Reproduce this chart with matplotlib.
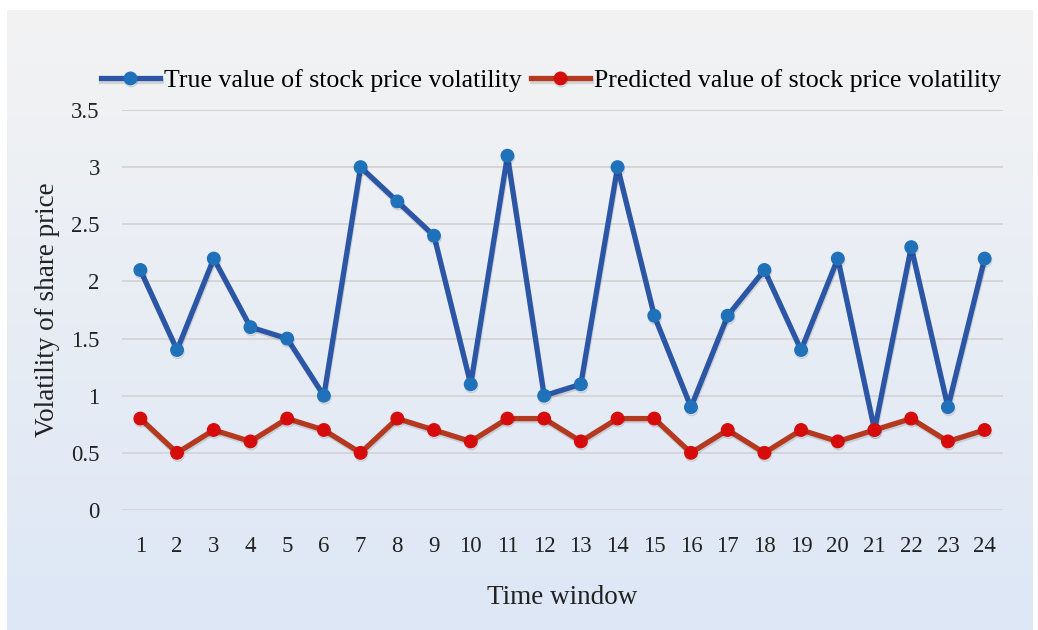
import numpy as np
import matplotlib.pyplot as plt
import matplotlib.patheffects as pe

time_window = list(range(1, 25))
true_vals = [2.1, 1.4, 2.2, 1.6, 1.5, 1.0, 3.0, 2.7, 2.4, 1.1, 3.1, 1.0,
             1.1, 3.0, 1.7, 0.9, 1.7, 2.1, 1.4, 2.2, 0.7, 2.3, 0.9, 2.2]
pred_vals = [0.8, 0.5, 0.7, 0.6, 0.8, 0.7, 0.5, 0.8, 0.7, 0.6, 0.8, 0.8,
             0.6, 0.8, 0.8, 0.5, 0.7, 0.5, 0.7, 0.6, 0.7, 0.8, 0.6, 0.7]
y_ticks = [0, 0.5, 1, 1.5, 2, 2.5, 3, 3.5]
y_labels = ['0', '0.5', '1', '1.5', '2', '2.5', '3', '3.5']

plt.rcParams['font.family'] = ['Liberation Serif', 'DejaVu Serif']

fig = plt.figure(figsize=(10.38, 6.3), dpi=100)

# gradient background panel
bg = fig.add_axes([7 / 1038, 0, 1026 / 1038, 620 / 630])
top = np.array([0.953, 0.953, 0.953])
bot = np.array([0.867, 0.906, 0.965])
t = np.linspace(0, 1, 256)[:, None]
grad = top[None, :] * (1 - t) + bot[None, :] * t
bg.imshow(grad[:, None, :], aspect='auto', extent=[0, 1, 0, 1])
bg.axis('off')

ax = fig.add_axes([122 / 1038, 1 - 510 / 630, 881 / 1038, 400 / 630])
ax.patch.set_alpha(0)

shadow = [pe.SimpleLineShadow(offset=(0.5, -1.5), shadow_color='black', alpha=0.12, rho=1), pe.Normal()]

ax.plot(time_window, true_vals, color='#2B56A6', lw=3.8, marker='o', markersize=9,
        markerfacecolor='#1F72BA', markeredgecolor='#1F72BA',
        label='True value of stock price volatility', path_effects=shadow, zorder=3)
ax.plot(time_window, pred_vals, color='#B5391F', lw=3.8, marker='o', markersize=9,
        markerfacecolor='#D60C0C', markeredgecolor='#D60C0C',
        label='Predicted value of stock price volatility', path_effects=shadow, zorder=3)

ax.set_xlim(0.5, 24.5)
ax.set_ylim(0, 3.5)
ax.set_yticks(y_ticks)
ax.set_yticklabels(y_labels)
ax.set_xticks(time_window)
ax.grid(axis='y', color='#D4D4D4', lw=1.3)
ax.set_axisbelow(True)
for s in ax.spines.values():
    s.set_visible(False)
ax.tick_params(length=0, labelsize=16.5, labelcolor='#222222')
ax.tick_params(axis='x', pad=19)
ax.tick_params(axis='y', pad=16)

ax.set_xlabel('Time window', fontsize=19.5, color='#222222', labelpad=20)
ax.set_ylabel('Volatility of share price', fontsize=19.5, color='#222222', labelpad=8)

ax.legend(loc='lower center', bbox_to_anchor=(0.487, 1.005), ncol=2, frameon=False,
          fontsize=18.6, handlelength=2.3, handletextpad=0.15, columnspacing=0.35,
          borderaxespad=0.2)

plt.savefig('out.png', dpi=100)
